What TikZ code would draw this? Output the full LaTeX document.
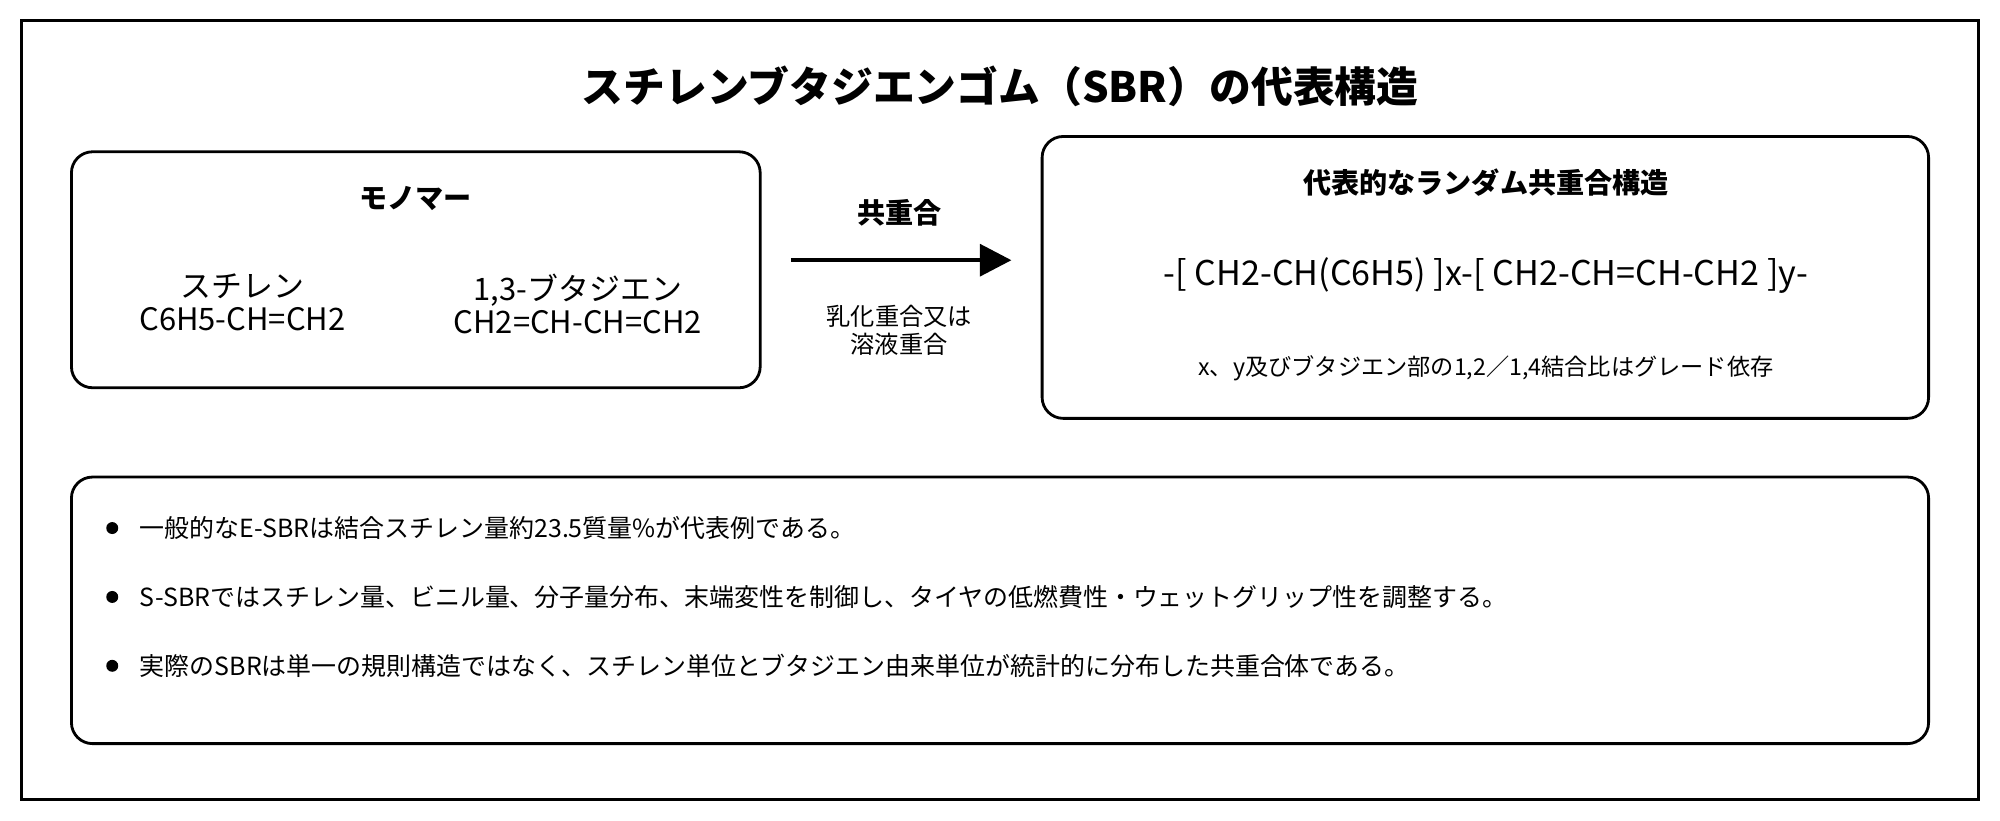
\documentclass[tikz,border=0pt]{standalone}
\usepackage{fontspec}
\setmainfont{Noto Sans CJK JP}
\usetikzlibrary{positioning,arrows.meta}

\begin{document}
\begin{tikzpicture}[x=0.012755cm,y=-0.012755cm]
    \tikzset{
      box/.style={draw,line width=0.8pt,rounded corners=6pt},
      hdr/.style={font=\fontsize{8}{9.6}\selectfont\bfseries},
      txt/.style={font=\fontsize{8.8}{9.4}\selectfont,align=center},
      item/.style={font=\fontsize{7.1}{8.5}\selectfont,anchor=west},
      dot/.style={circle,fill,inner sep=0pt,minimum size=3.4pt}
    }
    \useasboundingbox (0,0) rectangle (1568,643);
    \draw[line width=0.8pt] (17,16) rectangle (1551,627);
    \node[font=\fontsize{11.9}{14}\selectfont\bfseries] (title) at (784,68) {スチレンブタジエンゴム（SBR）の代表構造};

    % monomers
    \draw[box] (56,119) rectangle (596,304);
    \node[hdr] (mono) at (326,156) {モノマー};
    \node[txt] (sty) at (190,237) {スチレン\\C6H5-CH=CH2};
    \node[txt] (bd) at (453,238) {1,3-ブタジエン\\CH2=CH-CH=CH2};

    % reaction arrow
    \coordinate (a1) at (620,204);
    \coordinate (a2) at (793,204);
    \draw[line width=1.3pt,-{Triangle[length=9pt,width=9pt]}] (a1) -- (a2);
    \node[hdr] (copo) at (705,167) {共重合};
    \node[font=\fontsize{6.9}{8}\selectfont,align=center] (meth) at (705,259) {乳化重合又は\\溶液重合};

    % random copolymer
    \draw[box] (817,107) rectangle (1512,328);
    \node[hdr] (rnd) at (1165,143) {代表的なランダム共重合構造};
    \node[font=\fontsize{9.7}{11}\selectfont] (form) at (1165,216) {-[ CH2-CH(C6H5) ]x-[ CH2-CH=CH-CH2 ]y-};
    \node[font=\fontsize{6.6}{8}\selectfont] (note) at (1165,289) {x、y及びブタジエン部の1,2／1,4結合比はグレード依存};

    % notes
    \draw[box] (56,374) rectangle (1512,583);
    \foreach \i/\t in {1/{一般的なE-SBRは結合スチレン量約23.5質量\%が代表例である。},
                       2/{S-SBRではスチレン量、ビニル量、分子量分布、末端変性を制御し、タイヤの低燃費性・ウェットグリップ性を調整する。},
                       3/{実際のSBRは単一の規則構造ではなく、スチレン単位とブタジエン由来単位が統計的に分布した共重合体である。}} {
      \node[dot] (b\i) at (88,360+54*\i) {};
      \node[item] (t\i) at (100,360+54*\i) {\t};
    }
  \end{tikzpicture}
\end{document}
